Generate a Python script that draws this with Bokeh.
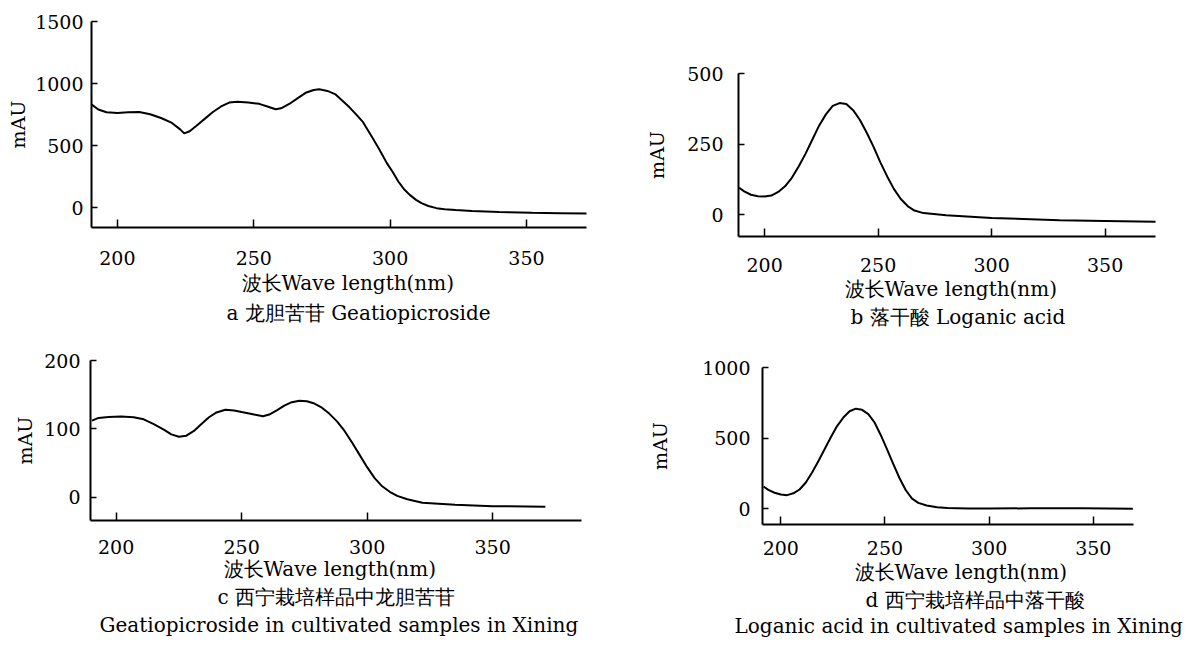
from bokeh.plotting import figure
from bokeh.layouts import column, row
from bokeh.models import Title, Range1d, FixedTicker, Spacer
from bokeh.embed import file_html
from bokeh.resources import INLINE

# ---------------- data ----------------
wl_a = [190.6, 193, 196, 200, 204, 208, 212, 216, 220, 223, 224.5, 226.5, 229, 232, 235,
        238, 241, 244, 248, 252, 255, 258, 260, 263, 266, 269, 272, 274, 277, 280,
        282, 285, 287.6, 290, 293.2, 296, 298.8, 301, 303, 305, 307.2, 309.5, 311.5, 314,
        317, 320, 324, 330, 340, 352, 362, 372.4]
mau_a = [830, 790, 768, 762, 768, 771, 752, 722, 682, 630, 598, 615, 660, 715, 770,
         815, 846, 852, 846, 836, 815, 792, 800, 835, 880, 925, 948, 953, 940, 912,
         871, 810, 749, 690, 574, 470, 358, 285, 210, 150, 102, 62, 35, 12,
         -5, -13, -19, -27, -36, -43, -46, -49]

wl_b = [188.8, 191, 194, 197, 200, 203, 206, 209, 212, 215, 218, 221, 224, 227, 230,
        233, 236, 239, 242, 245, 248, 251, 254, 257, 260, 263, 266, 270, 280, 300,
        330, 350, 374]
mau_b = [95, 82, 70, 65, 64, 67, 80, 100, 130, 170, 215, 265, 315, 355, 385,
         395, 392, 370, 335, 290, 240, 185, 135, 90, 55, 30, 14, 5, -3, -12,
         -20, -23, -26]

wl_c = [190.4, 193, 197, 202, 207, 211, 215, 219, 222, 225, 228, 231, 234, 237, 240,
        243.5, 247, 251, 255, 258.5, 261, 264, 267, 270, 273, 276, 279, 282, 285, 288,
        291, 294, 297, 300, 303, 306, 309, 312, 316, 322, 335, 350, 371]
mau_c = [112, 116, 117.5, 118, 117, 114, 107, 99, 92, 88.5, 90, 97, 107, 117, 124,
         128, 127, 124, 121, 118.5, 121, 127, 134, 139, 141, 140.5, 137, 131, 122, 111,
         97, 80, 62, 44, 28, 16, 8, 2, -3, -8, -11, -13, -14]

wl_d = [191.7, 194, 197, 200, 203, 206, 209, 212, 215, 218, 221, 224, 227, 230, 233,
        236, 239, 242, 245, 248, 251, 254, 257, 260, 263, 266, 270, 275, 280, 290,
        300, 320, 345, 369]
mau_d = [156, 132, 112, 100, 95, 108, 135, 185, 255, 335, 420, 505, 585, 645, 690,
         708, 700, 670, 610, 520, 420, 315, 215, 130, 70, 40, 22, 10, 4, 1,
         0, 2, 2, -2]

x_ticks = [200, 250, 300, 350]
yticks_a = [0, 500, 1000, 1500]
yticks_b = [0, 250, 500]
yticks_c = [0, 100, 200]
yticks_d = [0, 500, 1000]

xlabel = "波长Wave length(nm)"
cap_a = ["a  龙胆苦苷 Geatiopicroside"]
cap_b = ["b  落干酸  Loganic acid"]
cap_c = ["c  西宁栽培样品中龙胆苦苷", "Geatiopicroside in cultivated samples in Xining"]
cap_d = ["d  西宁栽培样品中落干酸", "Loganic acid in cultivated samples in Xining"]

FONT = "DejaVu Serif"
TICK_FS = "19px"
TXT_FS = "20px"


def panel(wl, mau, xr, yr, yticks, fw, fh, bl, br, bb,
          ystand, ylab_stand, xstand, titles):
    p = figure(frame_width=fw, frame_height=fh, output_backend="svg", toolbar_location=None,
               x_range=Range1d(*xr), y_range=Range1d(*yr),
               min_border_left=bl, min_border_right=br, min_border_top=10,
               min_border_bottom=bb)
    p.outline_line_color = None
    p.grid.visible = False
    p.line(wl, mau, line_color="black", line_width=2)

    p.xaxis.ticker = FixedTicker(ticks=x_ticks)
    p.yaxis.ticker = FixedTicker(ticks=yticks)
    for ax in (p.xaxis[0], p.yaxis[0]):
        ax.axis_line_color = "black"
        ax.axis_line_width = 2
        ax.major_tick_line_color = "black"
        ax.major_tick_line_width = 1.5
        ax.major_tick_out = 0
        ax.minor_tick_out = 0
        ax.minor_tick_in = 0
        ax.major_label_text_font = FONT
        ax.major_label_text_font_size = TICK_FS
        ax.major_label_text_color = "black"
    p.xaxis.major_tick_in = 8
    p.yaxis.major_tick_in = 6
    p.xaxis.major_label_standoff = xstand
    p.yaxis.major_label_standoff = ystand
    p.yaxis.axis_label = "mAU"
    p.yaxis.axis_label_text_font = FONT
    p.yaxis.axis_label_text_font_size = TICK_FS
    p.yaxis.axis_label_text_font_style = "normal"
    p.yaxis.axis_label_text_color = "black"
    p.yaxis.axis_label_standoff = ylab_stand

    for text, off, stand in titles:
        p.add_layout(Title(text=text, align="left", offset=off, text_font=FONT,
                           text_font_size=TXT_FS, text_font_style="normal",
                           text_color="black", standoff=stand, vertical_align="top"),
                     "below")
    return p


pa = panel(wl_a, mau_a, (190.5, 372.0), (-161, 1500), yticks_a, 495, 206, 86, 31, 110,
           8, 3, 23, [(xlabel, 150, 6), (cap_a[0], 135, 3)])
pb = panel(wl_b, mau_b, (188.5, 372.2), (-78, 500), yticks_b, 417, 163, 121, 31, 105,
           15, 16, 21, [(xlabel, 106, 4), (cap_b[0], 112, 1)])
pc = panel(wl_c, mau_c, (189.8, 385.4), (-34, 200), yticks_c, 491, 160, 84, 31, 0,
           10, 5, 19, [(xlabel, 133, 1), (cap_c[0], 127, 3), (cap_c[1], 9, 0)])
pd = panel(wl_d, mau_d, (191.2, 369.3), (-113, 1000), yticks_d, 371, 157, 150, 52, 0,
           12, 28, 16, [(xlabel, 92, 4), (cap_d[0], 103, 0), (cap_d[1], -28, 0)])

row1 = row(Spacer(width=4), column(Spacer(height=11), pa), column(Spacer(height=63), pb))
row2 = row(Spacer(width=6), column(Spacer(height=9), pc), column(Spacer(height=16), pd))
layout = column(row1, row2)

with open("out.html", "w") as f:
    f.write(file_html(layout, INLINE))
